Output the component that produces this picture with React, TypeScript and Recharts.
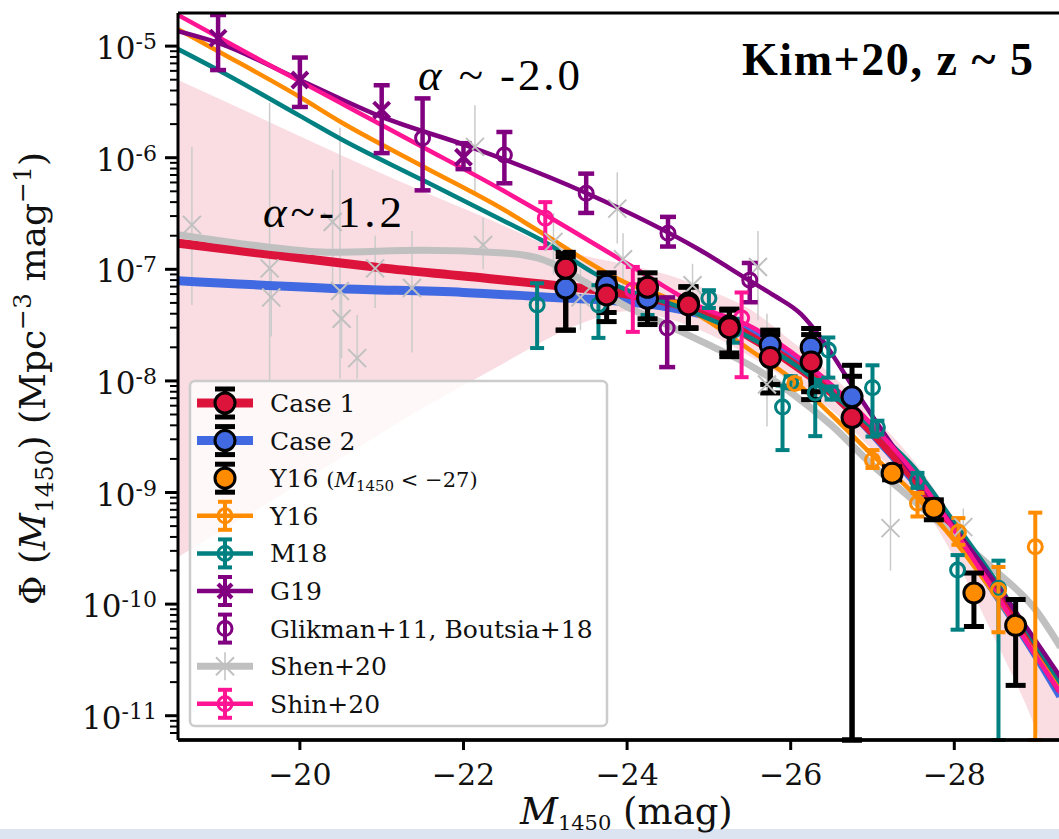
import React from "react";
import {
  Area,
  ComposedChart,
  ErrorBar,
  Line,
  ReferenceLine,
  Scatter,
  XAxis,
  YAxis,
} from "recharts";

const RED = "#dc143c";
const BLUE = "#4169e1";
const ORANGE = "#ff8c00";
const TEAL = "#008080";
const PURPLE = "#800080";
const SILVER = "#c0c0c0";
const PINK = "#ff1493";
const BAND_FILL = "#f9dde2";
const SERIF = "'DejaVu Serif', serif";

const W = 1059;
const H = 839;
const PLOT_LEFT = 178;
const PLOT_TOP = 13;
const PLOT_BOTTOM = 740;

const X_MIN = -29.28;
const X_MAX = -18.51;
const Y_MIN = 6.06e-12;
const Y_MAX = 1.98e-5;
// lower error that runs off the bottom of the axes (stops at the spine)
const FLOOR = Y_MIN;

const X_TICKS = [-20, -22, -24, -26, -28];
const Y_DECADES = [-12, -11, -10, -9, -8, -7, -6, -5];

// fits: [M1450, Phi]
const CASE1_FIT: [number, number][] = [
  [-18.51, 1.71e-7], [-19.5, 1.4e-7], [-20.5, 1.14e-7], [-21, 1.03e-7],
  [-22, 8.7e-8], [-23.1, 7.2e-8], [-24, 6.0e-8], [-24.5, 5.1e-8],
  [-25, 3.98e-8], [-25.5, 2.5e-8], [-26, 1.48e-8], [-26.5, 7.9e-9],
  [-27, 3.47e-9], [-27.5, 1.35e-9], [-28, 4.68e-10], [-28.5, 1.38e-10],
  [-29, 3.8e-11], [-29.3, 1.7e-11],
];
const CASE2_FIT: [number, number][] = [
  [-18.51, 7.9e-8], [-20.5, 6.7e-8], [-22, 6.2e-8], [-23.1, 5.6e-8],
  [-24, 5.1e-8], [-24.5, 4.6e-8], [-25, 3.8e-8], [-25.5, 2.7e-8],
  [-26, 1.6e-8], [-26.5, 8.0e-9], [-27, 3.4e-9], [-27.5, 1.3e-9],
  [-28, 4.4e-10], [-28.5, 1.28e-10], [-29, 3.5e-11], [-29.3, 1.5e-11],
];
const SHEN_FIT: [number, number][] = [
  [-18.51, 2.04e-7], [-19.5, 1.62e-7], [-20.4, 1.42e-7], [-21.5, 1.48e-7],
  [-22.5, 1.4e-7], [-23, 1.2e-7], [-23.5, 7.6e-8], [-24, 4.6e-8],
  [-24.5, 3.15e-8], [-25, 2.1e-8], [-25.5, 1.38e-8], [-26, 7.9e-9],
  [-26.5, 4.0e-9], [-27, 1.76e-9], [-27.5, 8.5e-10], [-28, 4.15e-10],
  [-28.5, 2.0e-10], [-29, 8.8e-11], [-29.3, 4.1e-11],
];
const M18_FIT: [number, number][] = [
  [-18.51, 9.4e-6], [-19, 6.1e-6], [-20, 2.37e-6], [-20.5, 1.47e-6],
  [-21.5, 6.3e-7], [-22.5, 2.7e-7], [-23, 1.75e-7], [-23.6, 9.2e-8],
  [-24, 6.5e-8], [-24.5, 5.0e-8], [-25, 3.6e-8], [-25.5, 2.45e-8],
  [-26, 1.48e-8], [-26.5, 7.8e-9], [-27, 3.8e-9], [-27.5, 1.7e-9],
  [-28, 5.4e-10], [-28.5, 1.65e-10], [-29, 4.3e-11], [-29.3, 1.95e-11],
];
const Y16_FIT: [number, number][] = [
  [-18.51, 1.42e-5], [-19, 9.0e-6], [-20, 3.5e-6], [-20.5, 2.09e-6],
  [-21.5, 8.4e-7], [-22.5, 3.4e-7], [-22.9, 2.25e-7], [-24, 7.5e-8],
  [-24.5, 5.5e-8], [-25, 3.4e-8], [-25.5, 1.9e-8], [-26, 1.06e-8],
  [-26.5, 4.95e-9], [-27, 2.16e-9], [-27.5, 9.8e-10], [-28, 3.7e-10],
  [-28.5, 1.2e-10], [-29, 3.5e-11], [-29.3, 1.7e-11],
];
const SHIN_FIT: [number, number][] = [
  [-18.51, 1.9e-5], [-19.5, 7.6e-6], [-20.5, 3.09e-6], [-21.5, 1.25e-6],
  [-22.5, 5.0e-7], [-22.9, 3.4e-7], [-24.07, 1.05e-7], [-24.9, 4.6e-8],
  [-25.54, 3.0e-8], [-26, 1.83e-8], [-26.5, 9.2e-9], [-27, 4.0e-9],
  [-27.5, 1.53e-9], [-28, 4.6e-10], [-28.5, 1.26e-10], [-29, 3.4e-11],
  [-29.3, 1.6e-11],
];
const G19_FIT: [number, number][] = [
  [-18.51, 1.36e-5], [-19, 1.07e-5], [-20, 4.97e-6], [-21, 2.32e-6],
  [-22.1, 1.24e-6], [-23.5, 4.83e-7], [-24.89, 1.49e-7], [-25.5, 7.9e-8],
  [-25.8, 5.8e-8], [-26.12, 4.0e-8], [-26.43, 2.1e-8], [-26.73, 9.6e-9],
  [-27.34, 2.1e-9], [-27.95, 5.4e-10], [-28.56, 1.35e-10], [-29.3, 2.2e-11],
];

// confidence band: [M1450, lower, upper]
const BAND_ROWS: [number, number, number][] = [
  [-18.51, 2.64e-10, 4.97e-6], [-19.5, 7.2e-10, 2.31e-6],
  [-20.5, 2.03e-9, 1.06e-6], [-21.5, 5.7e-9, 5.0e-7],
  [-22.5, 1.45e-8, 2.45e-7], [-23, 2.33e-8, 1.68e-7],
  [-23.5, 3.4e-8, 1.31e-7], [-24, 4.2e-8, 1.1e-7],
  [-24.5, 3.6e-8, 8.9e-8], [-25, 2.63e-8, 6.5e-8],
  [-25.5, 1.66e-8, 4.4e-8], [-26, 9.8e-9, 2.3e-8],
  [-26.5, 5.5e-9, 1.13e-8], [-27, 2.4e-9, 4.9e-9],
  [-27.5, 1.0e-9, 1.95e-9], [-28, 2.6e-10, 5.9e-10],
  [-28.5, 4.8e-11, 1.7e-10], [-29, 7.4e-12, 4.8e-11],
  [-29.3, 1.6e-12, 2.3e-11],
];

// binned points: [M1450, Phi, lower, upper]
type Row = [number, number, number, number];
const CASE1_PTS: Row[] = [
  [-23.25, 1.02e-7, 2.85e-8, 1.42e-7], [-23.75, 5.9e-8, 3.4e-8, 8.3e-8],
  [-24.25, 6.9e-8, 3.6e-8, 9.3e-8], [-24.75, 4.8e-8, 2.95e-8, 6.9e-8],
  [-25.25, 3.0e-8, 1.78e-8, 4.3e-8], [-25.75, 1.62e-8, 7.8e-9, 2.6e-8],
  [-26.25, 1.48e-8, 6.8e-9, 2.6e-8], [-26.75, 4.7e-9, FLOOR, 1.1e-8],
];
const CASE2_PTS: Row[] = [
  [-23.25, 6.8e-8, 2.85e-8, 1.3e-7], [-23.75, 7.2e-8, 4.1e-8, 9.3e-8],
  [-24.25, 5.5e-8, 3.2e-8, 8.0e-8], [-24.75, 5.0e-8, 3.0e-8, 7.0e-8],
  [-25.25, 3.1e-8, 1.65e-8, 4.4e-8], [-25.75, 2.1e-8, 9.3e-9, 2.85e-8],
  [-26.25, 2.0e-8, 8.0e-9, 2.95e-8], [-26.75, 7.2e-9, FLOOR, 1.38e-8],
];
const Y16_BRIGHT_PTS: Row[] = [
  [-27.24, 1.49e-9, 1.3e-9, 1.7e-9], [-27.75, 7.24e-10, 5.7e-10, 8.6e-10],
  [-28.24, 1.26e-10, 6.3e-11, 1.9e-10], [-28.75, 6.45e-11, 1.87e-11, 1.1e-10],
];
const Y16_PTS: Row[] = [
  [-26.05, 9.5e-9, 8.5e-9, 1.05e-8], [-27.0, 1.95e-9, 1.66e-9, 2.4e-9],
  [-27.55, 8.0e-10, 6.1e-10, 9.9e-10], [-28.05, 4.4e-10, 3.4e-10, 5.9e-10],
  [-28.54, 1.33e-10, 5.6e-11, 2.15e-10], [-28.99, 3.26e-10, FLOOR, 6.6e-10],
];
const M18_PTS: Row[] = [
  [-22.9, 4.8e-8, 1.97e-8, 7.5e-8], [-23.65, 4.8e-8, 2.43e-8, 7.2e-8],
  [-24.25, 5.25e-8, 3.9e-8, 7.2e-8], [-25.0, 5.5e-8, 4.5e-8, 6.5e-8],
  [-25.3, 2.84e-8, 2.2e-8, 3.6e-8], [-25.9, 5.83e-9, 2.4e-9, 9.1e-9],
  [-26.0, 9.7e-9, 8.6e-9, 1.1e-8], [-26.3, 7.8e-9, 3.2e-9, 1.02e-8],
  [-26.46, 1.89e-8, 1.07e-8, 2.45e-8], [-26.5, 7.8e-9, 6.8e-9, 8.9e-9],
  [-27.0, 8.7e-9, 3.17e-9, 1.38e-8], [-27.06, 3.83e-9, 3.3e-9, 4.4e-9],
  [-27.55, 1.29e-9, 1.1e-9, 1.5e-9], [-28.04, 2.02e-10, 5.9e-11, 2.75e-10],
  [-28.54, 1.39e-10, FLOOR, 2.45e-10],
];
const G19_PTS: Row[] = [
  [-19.0, 1.18e-5, 6.1e-6, 1.9e-5], [-20.0, 4.97e-6, 2.85e-6, 7.9e-6],
  [-21.0, 2.67e-6, 1.1e-6, 4.46e-6], [-22.0, 1.01e-6, 7.9e-7, 1.35e-6],
];
const GLIKMAN_PTS: Row[] = [
  [-21.5, 1.5e-6, 5.1e-7, 3.4e-6], [-22.5, 1.06e-6, 5.9e-7, 1.7e-6],
  [-23.5, 4.8e-7, 3.2e-7, 7.2e-7], [-24.5, 2.1e-7, 1.6e-7, 2.95e-7],
  [-24.49, 2.98e-8, 1.33e-8, 5.6e-8], [-25.5, 8.0e-8, 5.07e-8, 1.14e-7],
];
const SHIN_PTS: Row[] = [
  [-23.0, 2.87e-7, 1.55e-7, 4.0e-7], [-24.07, 6.5e-8, 2.75e-8, 1.05e-7],
  [-25.4, 3.66e-8, 1.08e-8, 6.2e-8],
];
const SHEN_PTS: Row[] = [
  [-18.68, 2.5e-7, 4.8e-8, 1.25e-6], [-19.63, 1.02e-7, 1.0e-8, 3.1e-6],
  [-19.65, 5.6e-8, 2.5e-8, 1.0e-7], [-20.4, 2.65e-7, 6.5e-8, 7.8e-7],
  [-20.49, 6.4e-8, 1.05e-8, 1.86e-6], [-20.51, 3.6e-8, 1.6e-8, 6.0e-8],
  [-20.7, 1.6e-8, 1.05e-8, 3.9e-8], [-20.92, 1.02e-7, 4.5e-8, 2.0e-7],
  [-21.37, 6.8e-8, 1.8e-8, 2.2e-7], [-22.14, 1.25e-6, 4.8e-7, 2.95e-6],
  [-22.24, 1.65e-7, 1.0e-7, 2.9e-7], [-23.1, 1.76e-7, 9e-8, 3.2e-7],
  [-23.43, 5.6e-8, 2.85e-8, 1.0e-7], [-23.88, 3.5e-7, 1.7e-7, 7.4e-7],
  [-23.95, 1.23e-7, 5.2e-8, 2.1e-7], [-24.8, 7.2e-8, 4.0e-8, 1.12e-7],
  [-25.6, 1.05e-7, 3.5e-8, 2.2e-7], [-25.71, 9.3e-9, 3.9e-9, 4.0e-8],
  [-27.22, 4.8e-10, 2.0e-10, 1.6e-9], [-28.11, 4.9e-10, 3.0e-10, 7.2e-10],
];

const curve = (rows: [number, number][]) => rows.map(([m, phi]) => ({ m, phi }));
const pts = (rows: Row[]) =>
  rows.map(([m, phi, lo, hi]) => ({ m, phi, err: [phi - lo, hi - phi] }));
const bandData = BAND_ROWS.map(([m, lo, hi]) => ({ m, band: [lo, hi] }));

// log ticks: majors at each decade, minors at 2..9
const Y_TICKS = Y_DECADES.flatMap((d) =>
  [1, 2, 3, 4, 5, 6, 7, 8, 9].map((k) => k * Math.pow(10, d))
).filter((v) => v >= Y_MIN && v <= Y_MAX);

function YTick(props: any) {
  const { y, payload } = props;
  const lg = Math.log10(payload.value);
  const e = Math.round(lg);
  if (Math.abs(lg - e) > 1e-6) {
    return <line x1={PLOT_LEFT - 8} x2={PLOT_LEFT} y1={y} y2={y} stroke="#000" strokeWidth={2} />;
  }
  return (
    <g>
      <line x1={PLOT_LEFT - 13} x2={PLOT_LEFT} y1={y} y2={y} stroke="#000" strokeWidth={3} />
      <text x={157} y={y + 13} textAnchor="end" fontFamily={SERIF} fontSize={31} fill="#111">
        10<tspan dy={-10} fontSize={22}>{String(e)}</tspan>
      </text>
    </g>
  );
}

function XTick(props: any) {
  const { x, payload } = props;
  return (
    <g>
      <line x1={x} x2={x} y1={PLOT_BOTTOM} y2={PLOT_BOTTOM + 10} stroke="#000" strokeWidth={3} />
      <text x={x} y={785} textAnchor="middle" fontFamily={SERIF} fontSize={30} fill="#111">
        {"\u2212" + Math.abs(payload.value)}
      </text>
    </g>
  );
}

const bigDot = (fill: string) => (p: any) =>
  <circle cx={p.cx} cy={p.cy} r={10} fill={fill} stroke="#000" strokeWidth={3} />;
const ring = (color: string) => (p: any) =>
  <circle cx={p.cx} cy={p.cy} r={7} fill="none" stroke={color} strokeWidth={3} />;
const cross = (color: string, s: number, w: number) => (p: any) => (
  <g>
    <line x1={p.cx - s} y1={p.cy - s} x2={p.cx + s} y2={p.cy + s} stroke={color} strokeWidth={w} />
    <line x1={p.cx - s} y1={p.cy + s} x2={p.cx + s} y2={p.cy - s} stroke={color} strokeWidth={w} />
  </g>
);

type LegendRow = {
  label: React.ReactNode;
  line?: { color: string; w: number };
  err?: { color: string; w: number; cap: number };
  marker: (cx: number, cy: number) => React.ReactNode;
};

const LEGEND: LegendRow[] = [
  {
    label: "Case 1",
    line: { color: RED, w: 9 },
    err: { color: "#000", w: 5, cap: 10 },
    marker: (cx, cy) => <circle cx={cx} cy={cy} r={10} fill={RED} stroke="#000" strokeWidth={3} />,
  },
  {
    label: "Case 2",
    line: { color: BLUE, w: 9 },
    err: { color: "#000", w: 5, cap: 10 },
    marker: (cx, cy) => <circle cx={cx} cy={cy} r={10} fill={BLUE} stroke="#000" strokeWidth={3} />,
  },
  {
    label: (
      <>
        <tspan>Y16 </tspan>
        <tspan fontSize={21}>(</tspan>
        <tspan fontSize={21} fontStyle="italic">M</tspan>
        <tspan fontSize={15} dy={4}>1450</tspan>
        <tspan fontSize={21} dy={-4}>{" < \u221227)"}</tspan>
      </>
    ),
    err: { color: "#000", w: 5, cap: 10 },
    marker: (cx, cy) => <circle cx={cx} cy={cy} r={10} fill={ORANGE} stroke="#000" strokeWidth={3} />,
  },
  {
    label: "Y16",
    line: { color: ORANGE, w: 4.5 },
    err: { color: ORANGE, w: 4, cap: 7 },
    marker: (cx, cy) => <circle cx={cx} cy={cy} r={7} fill="none" stroke={ORANGE} strokeWidth={3} />,
  },
  {
    label: "M18",
    line: { color: TEAL, w: 4.5 },
    err: { color: TEAL, w: 4, cap: 7 },
    marker: (cx, cy) => <circle cx={cx} cy={cy} r={7} fill="none" stroke={TEAL} strokeWidth={3} />,
  },
  {
    label: "G19",
    line: { color: PURPLE, w: 4.5 },
    err: { color: PURPLE, w: 4, cap: 7 },
    marker: (cx, cy) => cross(PURPLE, 7, 4)({ cx, cy }),
  },
  {
    label: "Glikman+11, Boutsia+18",
    err: { color: PURPLE, w: 4, cap: 7 },
    marker: (cx, cy) => <circle cx={cx} cy={cy} r={7} fill="none" stroke={PURPLE} strokeWidth={3} />,
  },
  {
    label: "Shen+20",
    line: { color: SILVER, w: 7 },
    err: { color: SILVER, w: 1.5, cap: 0 },
    marker: (cx, cy) => cross(SILVER, 9, 2)({ cx, cy }),
  },
  {
    label: "Shin+20",
    line: { color: PINK, w: 4.5 },
    err: { color: PINK, w: 4, cap: 7 },
    marker: (cx, cy) => <circle cx={cx} cy={cy} r={7} fill="none" stroke={PINK} strokeWidth={3} />,
  },
];

function Overlay() {
  const hx = 225;
  return (
    <svg
      width={W}
      height={H}
      style={{ position: "absolute", left: 0, top: 0, pointerEvents: "none" }}
    >
      {/* legend */}
      <rect x={190} y={381} width={417} height={345} rx={5} fill="rgba(255,255,255,0.8)" stroke="#cccccc" strokeWidth={2.5} />
      {LEGEND.map((row, i) => {
        const cy = 403 + i * 37.6;
        return (
          <g key={i}>
            {row.line && (
              <line x1={197} x2={253} y1={cy} y2={cy} stroke={row.line.color} strokeWidth={row.line.w} />
            )}
            {row.err && (
              <g stroke={row.err.color} strokeWidth={row.err.w}>
                <line x1={hx} x2={hx} y1={cy - 14} y2={cy + 14} />
                {row.err.cap > 0 && <line x1={hx - row.err.cap} x2={hx + row.err.cap} y1={cy - 14} y2={cy - 14} />}
                {row.err.cap > 0 && <line x1={hx - row.err.cap} x2={hx + row.err.cap} y1={cy + 14} y2={cy + 14} />}
              </g>
            )}
            {row.marker(hx, cy)}
            <text x={270} y={cy + 9} fontFamily={SERIF} fontSize={25} fill="#111">
              {row.label}
            </text>
          </g>
        );
      })}

      {/* annotations */}
      <text x={742} y={75} fontFamily="'Liberation Serif', serif" fontWeight="bold" fontSize={46} textLength={291} fill="#000">
        Kim+20, z ~ 5
      </text>
      <text x={418} y={90} fontFamily="'Liberation Serif', serif" fontSize={45} textLength={162} fill="#000">
        <tspan fontStyle="italic">α</tspan> ~ -2.0
      </text>
      <text x={263} y={227} fontFamily="'Liberation Serif', serif" fontSize={45} textLength={139} fill="#000">
        <tspan fontStyle="italic">α</tspan>~-1.2
      </text>

      {/* y label */}
      <text transform="translate(45,605) rotate(-90)" fontFamily={SERIF} fontSize={36} fill="#111">
        Φ (<tspan fontStyle="italic">M</tspan>
        <tspan fontSize={25} dy={8}>1450</tspan>
        <tspan dy={-8}>) (Mpc</tspan>
        <tspan fontSize={25} dy={-14}>{"\u22123"}</tspan>
        <tspan dy={14}> mag</tspan>
        <tspan fontSize={25} dy={-14}>{"\u22121"}</tspan>
        <tspan dy={14}>)</tspan>
      </text>

      {/* strip along the bottom edge */}
      <rect x={0} y={829} width={W} height={10} fill="#dce4f2" />

      {/* x label */}
      <text x={520} y={824} fontFamily={SERIF} fontSize={37} fill="#111">
        <tspan fontStyle="italic">M</tspan>
        <tspan fontSize={21} dy={6}>1450</tspan>
        <tspan dy={-6}> (mag)</tspan>
      </text>
    </svg>
  );
}

export default function App() {
  return (
    <div style={{ position: "fixed", left: 0, top: 0, width: W, height: H, background: "#fff", overflow: "hidden" }}>
      <ComposedChart width={W} height={H} margin={{ top: PLOT_TOP, right: 0, bottom: 0, left: 0 }}>
        <XAxis
          type="number"
          dataKey="m"
          domain={[X_MIN, X_MAX]}
          reversed
          allowDataOverflow
          ticks={X_TICKS}
          interval={0}
          tick={(p: any) => <XTick {...p} />}
          tickLine={false}
          axisLine={{ stroke: "#000", strokeWidth: 3 }}
          height={H - PLOT_BOTTOM}
        />
        <YAxis
          type="number"
          scale="log"
          domain={[Y_MIN, Y_MAX]}
          allowDataOverflow
          ticks={Y_TICKS}
          interval={0}
          tick={(p: any) => <YTick {...p} />}
          tickLine={false}
          axisLine={{ stroke: "#000", strokeWidth: 3 }}
          width={PLOT_LEFT}
        />

        <Area data={bandData} dataKey="band" type="monotone" fill={BAND_FILL} fillOpacity={1} stroke="none" isAnimationActive={false} activeDot={false} />

        <Scatter data={pts(SHEN_PTS)} dataKey="phi" shape={cross(SILVER, 9, 2)} isAnimationActive={false}>
          <ErrorBar dataKey="err" direction="y" width={0} stroke="#cbcbcb" strokeWidth={1.5} isAnimationActive={false} />
        </Scatter>

        <Line data={curve(CASE2_FIT)} dataKey="phi" type="monotone" stroke={BLUE} strokeWidth={9} dot={false} activeDot={false} isAnimationActive={false} />
        <Line data={curve(CASE1_FIT)} dataKey="phi" type="monotone" stroke={RED} strokeWidth={9} dot={false} activeDot={false} isAnimationActive={false} />
        <Line data={curve(SHEN_FIT)} dataKey="phi" type="monotone" stroke={SILVER} strokeWidth={7} dot={false} activeDot={false} isAnimationActive={false} />
        <Line data={curve(Y16_FIT)} dataKey="phi" type="monotone" stroke={ORANGE} strokeWidth={4.5} dot={false} activeDot={false} isAnimationActive={false} />
        <Line data={curve(M18_FIT)} dataKey="phi" type="monotone" stroke={TEAL} strokeWidth={4.5} dot={false} activeDot={false} isAnimationActive={false} />
        <Line data={curve(G19_FIT)} dataKey="phi" type="monotone" stroke={PURPLE} strokeWidth={4.5} dot={false} activeDot={false} isAnimationActive={false} />
        <Line data={curve(SHIN_FIT)} dataKey="phi" type="monotone" stroke={PINK} strokeWidth={4.5} dot={false} activeDot={false} isAnimationActive={false} />

        <Scatter data={pts(GLIKMAN_PTS)} dataKey="phi" shape={ring(PURPLE)} isAnimationActive={false}>
          <ErrorBar dataKey="err" direction="y" width={8} stroke={PURPLE} strokeWidth={4.5} isAnimationActive={false} />
        </Scatter>
        <Scatter data={pts(G19_PTS)} dataKey="phi" shape={cross(PURPLE, 8, 4)} isAnimationActive={false}>
          <ErrorBar dataKey="err" direction="y" width={8} stroke={PURPLE} strokeWidth={4.5} isAnimationActive={false} />
        </Scatter>
        <Scatter data={pts(M18_PTS)} dataKey="phi" shape={ring(TEAL)} isAnimationActive={false}>
          <ErrorBar dataKey="err" direction="y" width={7} stroke={TEAL} strokeWidth={4} isAnimationActive={false} />
        </Scatter>
        <Scatter data={pts(Y16_PTS)} dataKey="phi" shape={ring(ORANGE)} isAnimationActive={false}>
          <ErrorBar dataKey="err" direction="y" width={7} stroke={ORANGE} strokeWidth={4} isAnimationActive={false} />
        </Scatter>
        <Scatter data={pts(SHIN_PTS)} dataKey="phi" shape={ring(PINK)} isAnimationActive={false}>
          <ErrorBar dataKey="err" direction="y" width={7} stroke={PINK} strokeWidth={4} isAnimationActive={false} />
        </Scatter>

        <Scatter data={pts(Y16_BRIGHT_PTS)} dataKey="phi" shape={bigDot(ORANGE)} isAnimationActive={false}>
          <ErrorBar dataKey="err" direction="y" width={10} stroke="#000" strokeWidth={5} isAnimationActive={false} />
        </Scatter>
        <Scatter data={pts(CASE2_PTS)} dataKey="phi" shape={bigDot(BLUE)} isAnimationActive={false}>
          <ErrorBar dataKey="err" direction="y" width={10} stroke="#000" strokeWidth={5} isAnimationActive={false} />
        </Scatter>
        <Scatter data={pts(CASE1_PTS)} dataKey="phi" shape={bigDot(RED)} isAnimationActive={false}>
          <ErrorBar dataKey="err" direction="y" width={10} stroke="#000" strokeWidth={5} isAnimationActive={false} />
        </Scatter>

        {/* spines redrawn on top so caps of off-axis error bars sit under them */}
        <ReferenceLine y={Y_MAX} stroke="#000" strokeWidth={3} ifOverflow="visible" />
        <ReferenceLine y={Y_MIN} stroke="#000" strokeWidth={3.5} ifOverflow="visible" />
      </ComposedChart>
      <Overlay />
    </div>
  );
}
